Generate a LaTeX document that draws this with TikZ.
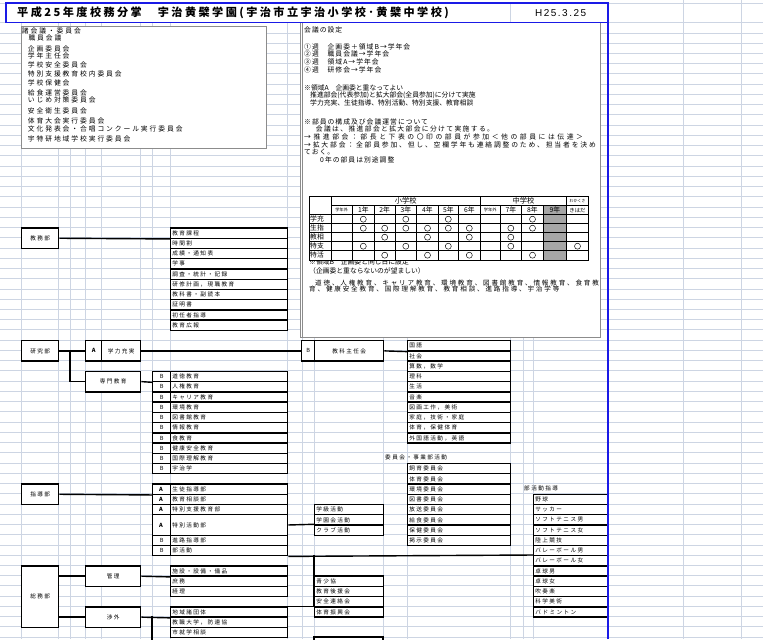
\documentclass[tikz,border=0pt]{standalone}
\usepackage{fontspec}
\setmainfont{Noto Sans CJK JP}
\newfontfamily\jp{Noto Sans CJK JP}
\newfontfamily\jpmemo[LetterSpace=28]{Noto Sans CJK JP}
\newfontfamily\jporg[LetterSpace=25]{Noto Sans CJK JP}
\newfontfamily\jptitle[LetterSpace=22]{Noto Sans CJK JP}
\newfontfamily\latdate[LetterSpace=15]{Liberation Sans}
\definecolor{gridc}{HTML}{CDD5E3}
\definecolor{pageblue}{HTML}{1A1AE6}
\definecolor{boxgray}{HTML}{8C8C8C}
\definecolor{shade9}{HTML}{A6A6A6}
\newcommand\memofont{\jpmemo\fontsize{5.8}{6}\selectfont}
\newcommand\orgfont{\jporg\fontsize{4.8}{5}\selectfont}
\newcommand\tabfont{\jp\fontsize{5.8}{6}\selectfont}

\begin{document}
\begin{tikzpicture}[x=0.03cm,y=-0.03cm,
  gridl/.style={draw=gridc,line width=0.4pt},
  memo/.style={anchor=west,inner sep=0pt,font=\memofont},
  orgbox/.style={draw,line width=1.2pt,fill=white,inner sep=0pt,font=\orgfont},
  deptbox/.style={orgbox,anchor=north west,minimum width=#1},
  itembox/.style={orgbox,anchor=north west,inner xsep=0.05cm,minimum height=0.3072cm,text width=#1,align=left},
  abcell/.style={orgbox,anchor=north west,minimum width=0.54cm,minimum height=#1},
  link/.style={line width=1.2pt}]
\useasboundingbox (0,0) rectangle (763,639);
\fill[white] (0,0) rectangle (763,639);

% sheet grid
\foreach \gx in {21,58,70,85,101,140,152,170,287,302,314,383,407,510,523,533,683,741}
  \draw[gridl] (\gx,22.5) -- (\gx,639);
\foreach \gr in {-20,...,40}
  \draw[gridl] (0,{227.3+10.24*\gr}) -- (763,{227.3+10.24*\gr});
\draw[gridl] (0,3) -- (763,3);
\draw[gridl] (510,3) -- (510,22.5);
\draw[gridl] (683,0) -- (683,22.5);
\draw[gridl] (741,0) -- (741,22.5);

% title row
\node[anchor=west,inner sep=0pt,font=\jptitle\bfseries\fontsize{9.5}{10}\selectfont] (title) at (17,12.7) {平成25年度校務分掌　宇治黄檗学園(宇治市立宇治小学校･黄檗中学校)};
\node[anchor=west,inner sep=0pt,font=\latdate\fontsize{8.5}{9}\selectfont] (date) at (535,12.7) {H25.3.25};

% memo: meetings
\draw[boxgray,fill=white,line width=0.5pt] (21,26) rectangle (266,148);
\foreach \tx/\ty/\t [count=\i] in {21.7/31/諸会議・委員会, 28.3/38.3/職員会議, 27.7/49.3/企画委員会,
    27.7/56/学年主任会, 27.7/65.3/学校安全委員会, 27.7/74.3/特別支援教育校内委員会,
    27.7/83.3/学校保健会, 27.7/92.7/給食運営委員会, 27.7/100/いじめ対策委員会,
    27.7/110.7/安全衛生委員会, 27.7/120.7/体育大会実行委員会,
    27.7/129.3/文化発表会・合唱コンクール実行委員会, 27.7/139/宇特研地域学校実行委員会}
  \node[memo] (mtg\i) at (\tx,\ty) {\t};

% memo: meeting settings
\draw[boxgray,fill=white,line width=0.5pt] (300,22.5) rectangle (600,337);
\draw[boxgray,line width=0.4pt] (302.5,22.5) -- (302.5,337);
\foreach \tx/\ty/\ls/\t [count=\i] in {304/30/15/会議の設定,
    304/46.7/15/①週　企画委＋領域B→学年会, 304/54/15/②週　職員会議→学年会,
    304/62.3/15/③週　領域A→学年会, 304/70/15/④週　研修会→学年会,
    304/88.3/0/※領域A　企画委と重なってよい,
    310/95/0/推進部会(代表参加)と拡大部会(全員参加)に分けて実施,
    310/102.7/0/学力充実、生徒指導、特別活動、特別支援、教育相談,
    304/121.7/15/※部員の構成及び会議運営について,
    315.7/129.3/20/会議は、推進部会と拡大部会に分けて実施する。,
    304/136.7/38/→推進部会：部長と下表の〇印の部員が参加＜他の部員には伝達＞,
    304/145/27/→拡大部会：全部員参加、但し、空欄学年も連絡調整のため、担当者を決め,
    304/152.3/15/ておく。, 320/160/15/0年の部員は別途調整}
  \node[memo,font={\jp\fontsize{5.8}{6}\selectfont\addfontfeature{LetterSpace=\ls}}] (set\i) at (\tx,\ty) {\t};
\node[memo,font=\jp\fontsize{5.8}{6}\selectfont] (areab) at (309,261.5) {※領域B　企画委と同じ日に設定};
\node[memo,font=\jp\fontsize{5.8}{6}\selectfont] (wish) at (309,271) {（企画委と重ならないのが望ましい）};
\node[memo,font=\jpmemo\fontsize{5.6}{6}\selectfont] (topic1) at (315,282.7) {道徳、人権教育、キャリア教育、環境教育、図書館教育、情報教育、食育教};
\node[memo,font=\jpmemo\fontsize{5.6}{6}\selectfont] (topic2) at (309,289.3) {育、健康安全教育、国際理解教育、教育相談、進路指導、宇治学等};

% members table
\fill[white] (309,196.7) rectangle (588.3,260);
\fill[shade9] (543.3,205.7) rectangle (566.7,260);
\foreach \ty in {214.7,223.7,232.7,241.7,250.7}
  \draw[line width=0.4pt] (309,\ty) -- (588.3,\ty);
\draw[line width=0.4pt] (331,205.7) -- (588.3,205.7);
\foreach \tx in {331,480.3,566.7}
  \draw[line width=0.4pt] (\tx,196.7) -- (\tx,260);
\foreach \tx in {352.3,374.3,395,416.7,438.3,458.3,500,521.7,543.3}
  \draw[line width=0.4pt] (\tx,205.7) -- (\tx,260);
\draw[line width=0.5pt] (309,196.7) rectangle (588.3,260);
\node[font=\jp\fontsize{6.2}{6}\selectfont,inner sep=0pt] (elem) at (405.7,201.2) {小学校};
\node[font=\jp\fontsize{6.2}{6}\selectfont,inner sep=0pt] (junior) at (523.5,201.2) {中学校};
\node[font=\jp\fontsize{3.4}{4}\selectfont,inner sep=0pt] (waka) at (577.5,201.2) {わかくさ};
\node[font=\jp\fontsize{3.6}{4}\selectfont,inner sep=0pt] (outer1) at (341.7,210.2) {学年外};
\node[font=\jp\fontsize{3.6}{4}\selectfont,inner sep=0pt] (outer2) at (490.2,210.2) {学年外};
\node[font=\jp\fontsize{4.6}{5}\selectfont,inner sep=0pt] (kiha) at (577.5,210.2) {きはだ};
\foreach \cx/\t [count=\i] in {363.3/1年, 384.7/2年, 405.8/3年, 427.5/4年, 448.3/5年,
    469.3/6年, 510.8/7年, 532.5/8年, 555/9年}
  \node[font=\tabfont,inner sep=0pt] (yr\i) at (\cx,210.2) {\t};
\foreach \t [count=\i] in {学充,生指,教相,特支,特活}
  \node[anchor=west,font=\tabfont,inner sep=0pt] (part\i) at (310,{210.2+9*\i}) {\t};
\foreach \cy/\cols in {219.2/{363.3,405.8,448.3,532.5},
    228.2/{363.3,384.7,405.8,427.5,448.3,469.3,510.8,532.5},
    237.2/{384.7,427.5,469.3,510.8},
    246.2/{363.3,405.8,448.3,510.8,577.5},
    255.2/{384.7,427.5,469.3,532.5}}
  \foreach \cx in \cols
    \draw[line width=0.4pt] (\cx,\cy) circle (3);

% organisation chart, one unit = one sheet row
\begin{scope}[shift={(0,227.3)},y=-0.3072cm]
\node[deptbox=1.11cm,minimum height=0.6144cm] (kyomu) at (21,0) {教務部};
\node[deptbox=1.11cm,minimum height=0.6144cm] (kenkyu) at (21,11) {研究部};
\node[deptbox=1.11cm,minimum height=0.6144cm] (shido) at (21,25) {指導部};
\node[deptbox=1.11cm,minimum height=1.8432cm] (somu) at (21,33) {総務部};
\node[deptbox=0.48cm,minimum height=0.6144cm,font=\orgfont\bfseries] (gakuA) at (85,11) {A};
\node[deptbox=1.17cm,minimum height=0.6144cm] (gakuryoku) at (101,11) {学力充実};
\node[deptbox=1.65cm,minimum height=0.6144cm] (senmon) at (85,14) {専門教育};
\node[deptbox=1.65cm,minimum height=0.6144cm] (kanri) at (85,33) {管理};
\node[deptbox=1.65cm,minimum height=0.6144cm] (shogai) at (85,37) {渉外};
\node[deptbox=0.39cm,minimum height=0.6144cm] (kyokaB) at (301,11) {B};
\node[deptbox=2.07cm,minimum height=0.6144cm] (kyoka) at (314,11) {教科主任会};

\foreach \t [count=\i from 0] in {教育課程,時間割,成績・通知表,学事,調査・統計・記録,
    研修計画，現職教育,教科書・副読本,証明書,初任者指導,教育広報}
  \node[itembox=3.41cm] (kyo\i) at (170,\i) {\t};

\foreach \t [count=\i from 0] in {道徳教育,人権教育,キャリア教育,環境教育,図書館教育,
    情報教育,食教育,健康安全教育,国際理解教育,宇治学}{
  \node[abcell=0.3072cm] (senB\i) at (152,{14+\i}) {B};
  \node[itembox=3.41cm] (sen\i) at (170,{14+\i}) {\t};
}

\foreach \r/\h/\ab/\t [count=\i] in {25/1/\textbf{A}/生徒指導部, 26/1/\textbf{A}/教育相談部,
    27/1/\textbf{A}/特別支援教育部, 28/2/\textbf{A}/特別活動部, 30/1/B/進路指導部, 31/1/B/部活動}{
  \node[abcell=\h*0.3072cm] (shiB\i) at (152,\r) {\ab};
  \node[itembox=3.41cm,minimum height=\h*0.3072cm] (shiT\i) at (170,\r) {\t};
}

\foreach \t [count=\i from 0] in {国語,社会,算数，数学,理科,生活,音楽,図画工作，美術,
    家庭，技術・家庭,体育，保健体育,外国語活動，英語}
  \node[itembox=2.99cm] (kam\i) at (407,{11+\i}) {\t};

\node[anchor=west,inner sep=0pt,font=\orgfont] (iinlabel) at (385,22.5) {委員会・事業部活動};
\foreach \t [count=\i from 0] in {飼育委員会,体育委員会,環境委員会,図書委員会,
    放送委員会,給食委員会,保健委員会,掲示委員会}
  \node[itembox=2.99cm] (iin\i) at (407,{23+\i}) {\t};

\foreach \t [count=\i from 0] in {学級活動,学園会活動,クラブ活動}
  \node[itembox=1.97cm] (katsu\i) at (314,{27+\i}) {\t};

\node[anchor=west,inner sep=0pt,font=\orgfont] (clublabel) at (524,25.5) {部活動指導};
\foreach \t [count=\i from 0] in {野球,サッカー,ソフトテニス男,ソフトテニス女,陸上競技,
    バレーボール男,バレーボール女,卓球男,卓球女,吹奏楽,科学美術,バドミントン}
  \node[itembox=2.135cm] (club\i) at (533,{26+\i}) {\t};

\foreach \t [count=\i from 0] in {施設・設備・備品,庶務,経理}
  \node[itembox=3.41cm] (kan\i) at (170,{33+\i}) {\t};
\foreach \t [count=\i from 0] in {地域諸団体,教職大学，防連協,市就学相談}
  \node[itembox=3.41cm] (sho\i) at (170,{37+\i}) {\t};
\foreach \t [count=\i from 0] in {青少協,教育後援会,安全連絡会,体育振興会}
  \node[itembox=1.97cm] (sei\i) at (314,{34+\i}) {\t};

% connectors
\coordinate (kbend) at (70,12);
\coordinate (bsplit) at (314,32);
\coordinate (sdrop) at (152,38);
\coordinate (sbottom) at (152,40.3);
\draw[link] (kyomu.east) -- (kyo0.south west);
\draw[link] (kenkyu.east) -- (gakuA.west);
\draw[link] (kbend) |- (senmon.west);
\draw[link] (gakuryoku.east) -- (kyokaB.west);
\draw[link] (kyoka.east) -- (kam0.south west);
\draw[link] (senmon.east) -- (senB0.south west);
\draw[link] (shido.east) -- (shiB1.south west);
\draw[link] (shiT4.east) -- (katsu2.north west);
\draw[link] (shiT6.south east) -- (club6.north west);
\draw[link] (bsplit) -- (bsplit |- sei3.north west);
\draw[link] (sho0.north east) -- (sei3.north west);
\draw[link] (somu.east |- kanri.west) -- (kanri.west);
\draw[link] (somu.east |- shogai.west) -- (shogai.west);
\draw[link] (kanri.east) -- (kan0.south west);
\draw[link] (shogai.east) -- (sho0.south west);
\draw[link] (sdrop) -- (sbottom);
\draw[link] (314,40.3) |- (383,40) -- (383,40.3);
\end{scope}

% print area
\draw[pageblue,line width=1.3pt] (608,639) -- (608,3) -- (6,3) -- (6,22.5) -- (608,22.5);
\end{tikzpicture}
\end{document}
